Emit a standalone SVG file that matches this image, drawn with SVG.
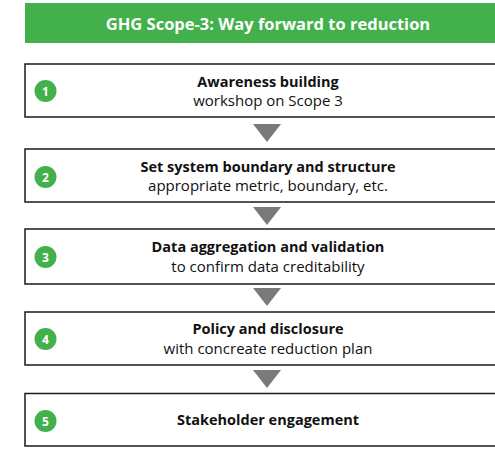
<svg xmlns="http://www.w3.org/2000/svg" width="495" height="453" viewBox="0 0 495 453">
<style>
.box{fill:#fff;stroke:#1a1a1a;stroke-width:1.5}
.num{fill:#43b14b}
.numt{fill:#fff;font-family:"Open Sans",sans-serif;font-weight:bold;font-size:12px;text-anchor:middle}
.t1{fill:#111;font-family:"Open Sans",sans-serif;font-weight:bold;font-size:14.5px;text-anchor:middle}
.t2{fill:#111;font-family:"Open Sans",sans-serif;font-size:15px;text-anchor:middle}
.arr{fill:#7a7a7a}
</style>
<rect width="495" height="453" fill="#fff"/>
<g id="header">
<rect x="25" y="3" width="480" height="40" fill="#43b14b"/>
<text x="268" y="30" fill="#fff" font-family="Open Sans, sans-serif" font-weight="bold" font-size="16.5" text-anchor="middle">GHG Scope-3: Way forward to reduction</text>
</g>
<g id="connectors">
<polygon class="arr" points="253,124 281,124 267,142"/>
<polygon class="arr" points="253,207 281,207 267,225"/>
<polygon class="arr" points="253,288 281,288 267,306"/>
<polygon class="arr" points="253,370 281,370 267,388"/>
</g>
<g id="step1">
<rect class="box" x="25" y="64" width="480" height="53"/>
<circle class="num" cx="45.5" cy="91" r="11"/>
<text class="numt" x="45.5" y="95.5">1</text>
<text class="t1" x="268" y="87">Awareness building</text>
<text class="t2" x="268" y="106">workshop on Scope 3</text>
</g>
<g id="step2">
<rect class="box" x="25" y="149" width="480" height="53"/>
<circle class="num" cx="45.5" cy="177" r="11"/>
<text class="numt" x="45.5" y="181.5">2</text>
<text class="t1" x="268" y="172">Set system boundary and structure</text>
<text class="t2" x="268" y="191">appropriate metric, boundary, etc.</text>
</g>
<g id="step3">
<rect class="box" x="25" y="229" width="480" height="55"/>
<circle class="num" cx="45.5" cy="257" r="11"/>
<text class="numt" x="45.5" y="261.5">3</text>
<text class="t1" x="268" y="252">Data aggregation and validation</text>
<text class="t2" x="268" y="272">to confirm data creditability</text>
</g>
<g id="step4">
<rect class="box" x="25" y="312" width="480" height="53"/>
<circle class="num" cx="45.5" cy="339" r="11"/>
<text class="numt" x="45.5" y="343.5">4</text>
<text class="t1" x="268" y="334">Policy and disclosure</text>
<text class="t2" x="268" y="354">with concreate reduction plan</text>
</g>
<g id="step5">
<rect class="box" x="25" y="393.5" width="480" height="52.5"/>
<circle class="num" cx="45.5" cy="421" r="11"/>
<text class="numt" x="45.5" y="425.5">5</text>
<text class="t1" x="268" y="425">Stakeholder engagement</text>
</g>
</svg>
